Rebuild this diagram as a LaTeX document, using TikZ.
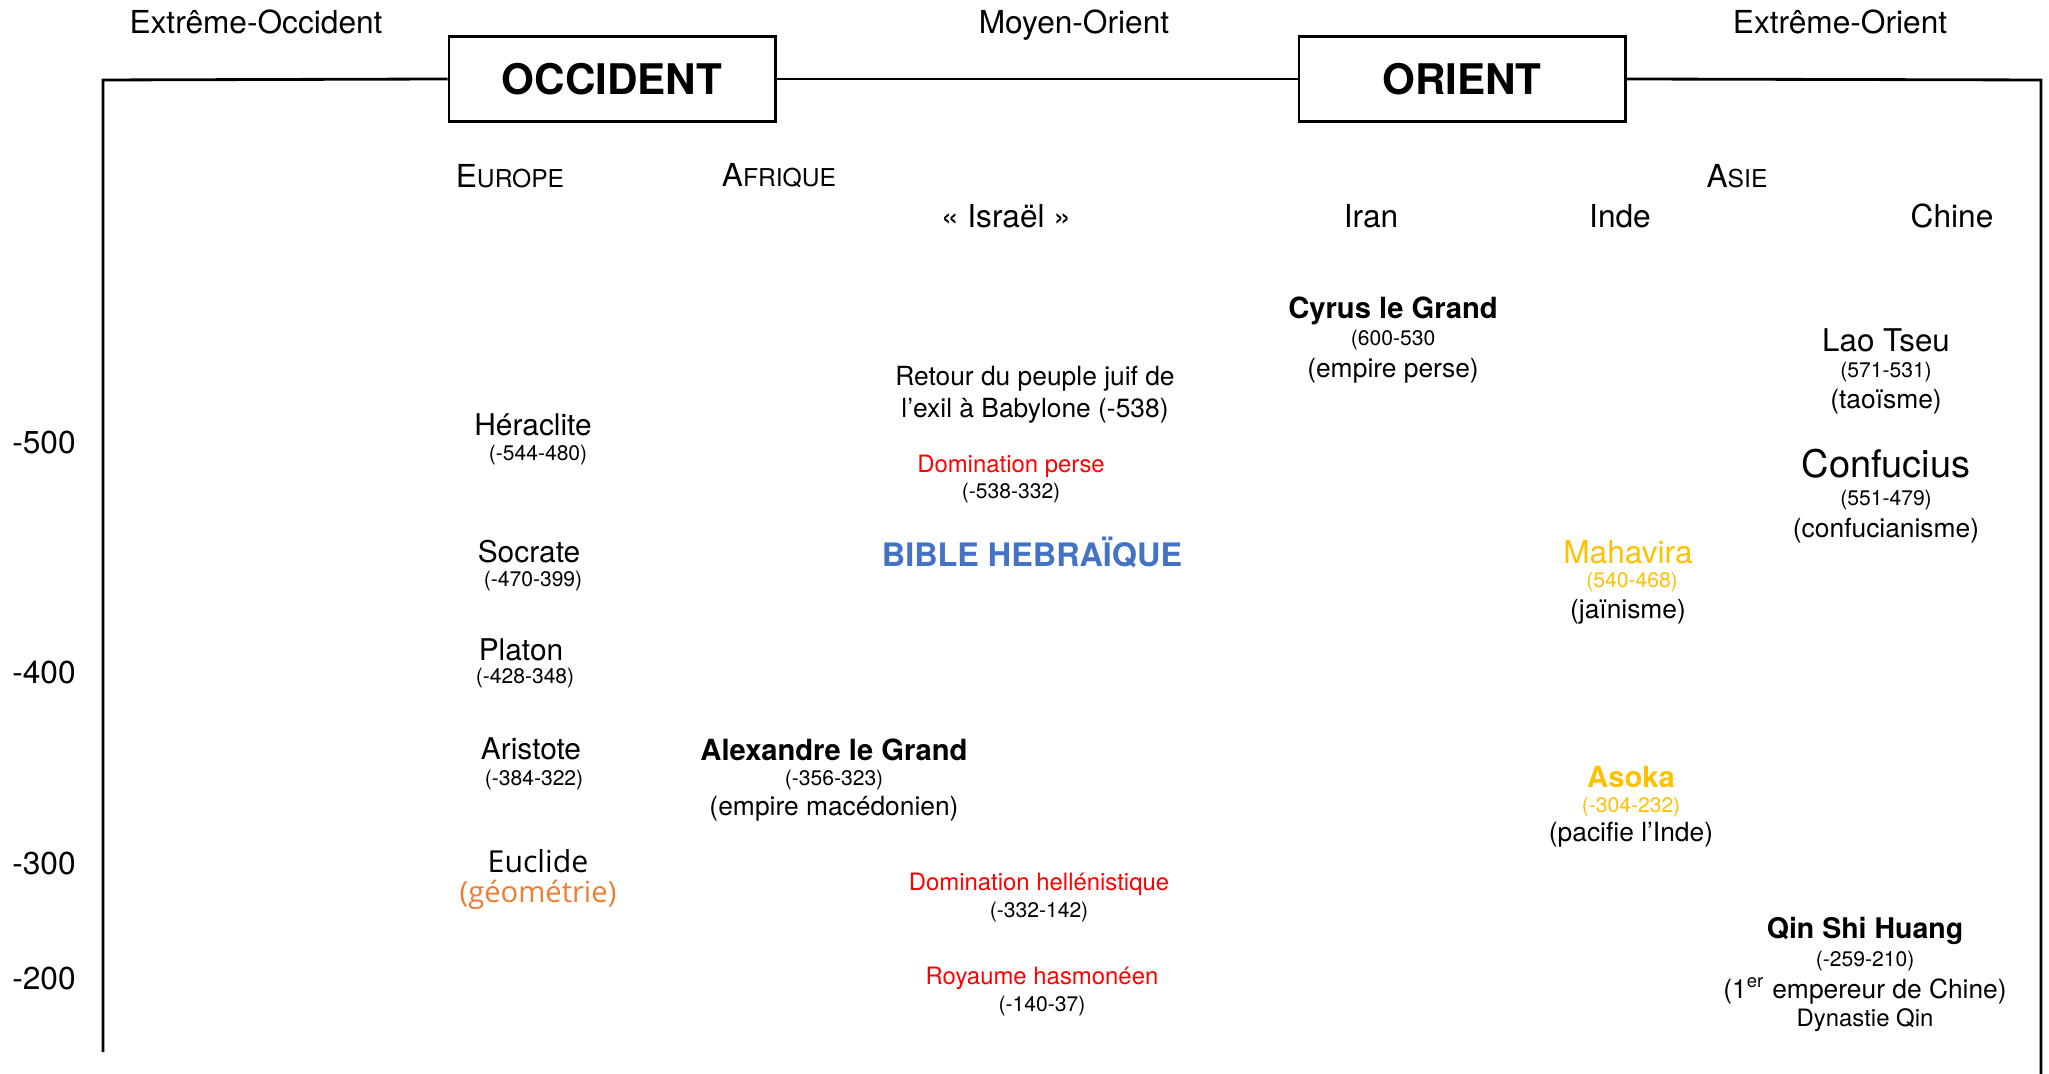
\documentclass[tikz,border=0pt]{standalone}
\usepackage{fontspec}
\setmainfont{TeX Gyre Heros}
\newfontfamily\euclidfont{Open Sans}
\usepackage{tikz}
\definecolor{dominred}{RGB}{255,0,0}
\definecolor{biblblue}{RGB}{68,114,196}
\definecolor{indegold}{RGB}{255,192,0}
\definecolor{geomorange}{RGB}{237,125,49}
\tikzstyle{worldbox} = [draw=black, line width=0.8pt, fill=white, rectangle,
    minimum width=3.26cm, minimum height=0.85cm, inner sep=0pt,
    font=\fontsize{12}{14}\selectfont\bfseries]
\tikzstyle{regionlabel} = [font=\fontsize{9}{11}\selectfont]
\tikzstyle{persname} = [font=\fontsize{8.5}{10}\selectfont, yshift=-0.8pt]
\tikzstyle{bigname} = [font=\fontsize{8.3}{10}\selectfont\bfseries, yshift=-0.8pt]
\tikzstyle{datetext} = [font=\fontsize{6}{7}\selectfont, yshift=-0.6pt]
\tikzstyle{notetext} = [font=\fontsize{7.5}{9}\selectfont, yshift=-0.8pt]
\tikzstyle{redtext} = [font=\fontsize{6.8}{8}\selectfont, text=dominred, yshift=-0.6pt]

\begin{document}
\begin{tikzpicture}[x=0.01cm, y=-0.01cm, inner sep=0pt]
    \useasboundingbox (0,0) rectangle (2049,1074);
    % frame and the two worlds
    \node[worldbox] (occ) at (612,79) {OCCIDENT};
    \node[worldbox] (ori) at (1462,79) {ORIENT};
    \coordinate (lb) at (103,1052);
    \coordinate (lt) at (103,80);
    \coordinate (rt) at (2041,80);
    \coordinate (rb) at (2041,1074);
    \draw[line width=0.8pt] (lb) -- (lt) -- (occ.west);
    \draw[line width=0.8pt] (occ.east) -- (ori.west);
    \draw[line width=0.8pt] (ori.east) -- (rt) -- (rb);
    \node[regionlabel] (xocc) at (256,22) {Extrême-Occident};
    \node[regionlabel] (moyor) at (1074,25) {Moyen-Orient};
    \node[regionlabel] (xori) at (1840,22) {Extrême-Orient};
    % continents and countries
    \node[regionlabel] (europe) at (510,176) {E{\fontsize{7}{8}\selectfont UROPE}};
    \node[regionlabel] (afrique) at (779,176) {A{\fontsize{7}{8}\selectfont FRIQUE}};
    \node[regionlabel] (asie) at (1737,176) {A{\fontsize{7}{8}\selectfont SIE}};
    \node[regionlabel] (israel) at (1006,216) {« Israël »};
    \node[regionlabel] (iran) at (1371,216) {Iran};
    \node[regionlabel] (inde) at (1620,216) {Inde};
    \node[regionlabel] (chine) at (1952,216) {Chine};
    % time axis
    \node[regionlabel] (t500) at (44,443) {-500};
    \node[regionlabel] (t400) at (44,673) {-400};
    \node[regionlabel] (t300) at (44,864) {-300};
    \node[regionlabel] (t200) at (44,979) {-200};
    % Europe
    \node[persname] (heraclite) at (533,422) {Héraclite};
    \node[datetext] (heraclited) at (538,453) {(-544-480)};
    \node[persname] (socrate) at (529,549) {Socrate};
    \node[datetext] (socrated) at (533,579) {(-470-399)};
    \node[persname] (platon) at (521,647) {Platon};
    \node[datetext] (platond) at (525,676) {(-428-348)};
    \node[persname] (aristote) at (531,746) {Aristote};
    \node[datetext] (aristoted) at (534,778) {(-384-322)};
    \node[font=\euclidfont\fontsize{8.6}{10}\selectfont] (euclide) at (538,861) {Euclide};
    \node[font=\euclidfont\fontsize{8.3}{10}\selectfont, text=geomorange] (euclided) at (538,895) {(géométrie)};
    % Afrique
    \node[bigname] (alexandre) at (834,747) {Alexandre le Grand};
    \node[datetext] (alexandred) at (834,778) {(-356-323)};
    \node[notetext] (alexandren) at (834,806) {(empire macédonien)};
    % Israel
    \node[notetext, align=center] (retour) at (1035,392) {Retour du peuple juif de\\l’exil à Babylone (-538)};
    \node[redtext] (perse) at (1011,464) {Domination perse};
    \node[datetext] (perse d) at (1011,491) {(-538-332)};
    \node[font=\fontsize{9.2}{11}\selectfont\bfseries, text=biblblue] (bible) at (1032,552) {BIBLE HEBRAÏQUE};
    \node[redtext] (hellen) at (1039,882) {Domination hellénistique};
    \node[datetext] (hellend) at (1039,910) {(-332-142)};
    \node[redtext] (hasmon) at (1042,976) {Royaume hasmonéen};
    \node[datetext] (hasmond) at (1042,1004) {(-140-37)};
    % Iran
    \node[bigname] (cyrus) at (1393,308) {Cyrus le Grand};
    \node[datetext] (cyrusd) at (1393,338) {(600-530};
    \node[notetext] (cyrusn) at (1393,368) {(empire perse)};
    % Inde
    \node[persname, font=\fontsize{9}{11}\selectfont, text=indegold] (mahavira) at (1628,549) {Mahavira};
    \node[datetext, text=indegold] (mahavirad) at (1632,580) {(540-468)};
    \node[notetext] (mahaviran) at (1628,609) {(jaïnisme)};
    \node[bigname, text=indegold] (asoka) at (1631,774) {Asoka};
    \node[datetext, text=indegold] (asokad) at (1631,805) {(-304-232)};
    \node[notetext] (asokan) at (1631,832) {(pacifie l’Inde)};
    % Chine
    \node[persname, font=\fontsize{8.9}{11}\selectfont] (laotseu) at (1886,338) {Lao Tseu};
    \node[datetext] (laotseud) at (1886,370) {(571-531)};
    \node[notetext] (laotseun) at (1886,399) {(taoïsme)};
    \node[font=\fontsize{10.8}{13}\selectfont] (confucius) at (1886,464) {Confucius};
    \node[datetext] (confuciusd) at (1886,498) {(551-479)};
    \node[notetext] (confuciusn) at (1886,528) {(confucianisme)};
    \node[bigname, font=\fontsize{8.1}{10}\selectfont\bfseries] (qin) at (1865,928) {Qin Shi Huang};
    \node[datetext] (qind) at (1865,959) {(-259-210)};
    \node[notetext] (qinn) at (1865,988) {(1\textsuperscript{er} empereur de Chine)};
    \node[notetext, font=\fontsize{6.8}{8}\selectfont] (qindyn) at (1865,1017) {Dynastie Qin};
\end{tikzpicture}
\end{document}
